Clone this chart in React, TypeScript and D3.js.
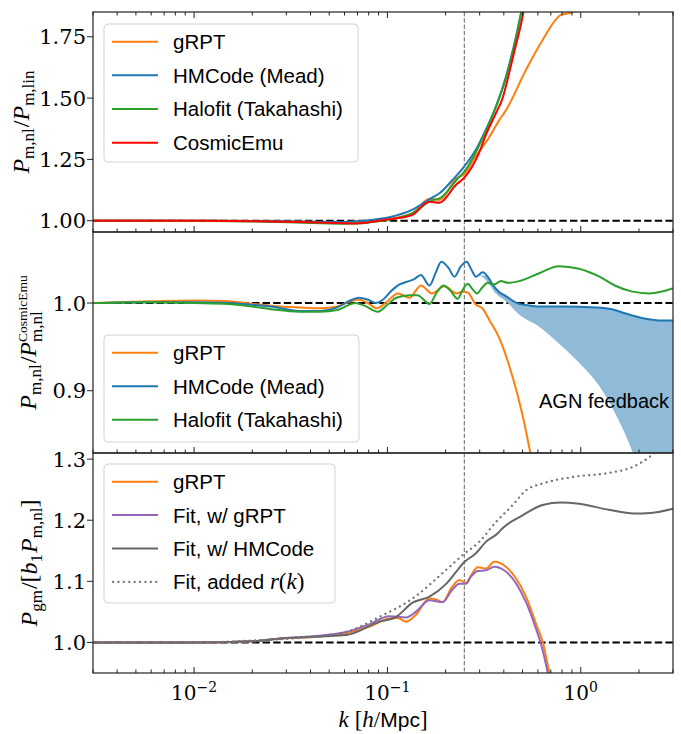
import React, { useRef, useEffect } from 'react';
import * as d3 from 'd3';

type Pt = [number, number];
type Band = [number, number, number];

const SERIF = "'DejaVu Serif', serif";
const MATH = "'Liberation Serif', 'Times New Roman', serif";
const SANS = "'Liberation Sans', Arial, sans-serif";

// x axis
const K_DOMAIN: [number, number] = [0.003, 3];
const K_MARKER = 0.25;
const X_TICKS = [0.01, 0.1, 1];
const X_TICK_EXP = ['\u22122', '\u22121', '0'];

// y axes
const TOP_DOMAIN: [number, number] = [0.954, 1.851];
const TOP_TICKS = [1.0, 1.25, 1.5, 1.75];
const MID_DOMAIN: [number, number] = [0.829, 1.081];
const MID_TICKS = [0.9, 1.0];
const BOT_DOMAIN: [number, number] = [0.95, 1.31];
const BOT_TICKS = [1.0, 1.1, 1.2, 1.3];

// top panel: P_nl / P_lin
const topGRPT: Pt[] = [
  [0.003, 1.0], [0.01, 1.0], [0.02, 0.999], [0.04, 0.996], [0.06, 0.994], [0.08, 1.0],
  [0.102, 1.008], [0.134, 1.03], [0.165, 1.09], [0.186, 1.084], [0.226, 1.17], [0.25, 1.19],
  [0.287, 1.265], [0.33, 1.33], [0.379, 1.41], [0.41, 1.45], [0.52, 1.614], [0.635, 1.737],
  [0.79, 1.839], [0.89, 1.848], [1.0, 1.87], [1.5, 1.95],
];
const topHMCode: Pt[] = [
  [0.003, 1.0], [0.01, 1.0], [0.02, 0.999], [0.04, 0.996], [0.06, 0.995], [0.08, 1.002],
  [0.102, 1.014], [0.134, 1.044], [0.171, 1.095], [0.186, 1.112], [0.217, 1.166], [0.25, 1.222],
  [0.287, 1.29], [0.31, 1.342], [0.364, 1.465], [0.41, 1.587], [0.45, 1.71], [0.49, 1.845],
  [0.52, 1.95],
];
const topHalofit: Pt[] = [
  [0.003, 1.0], [0.01, 0.999], [0.02, 0.997], [0.04, 0.991], [0.06, 0.988], [0.075, 0.99],
  [0.09, 0.998], [0.102, 1.004], [0.134, 1.03], [0.171, 1.084], [0.186, 1.091], [0.236, 1.18],
  [0.25, 1.2], [0.287, 1.28], [0.31, 1.335], [0.379, 1.5], [0.41, 1.58], [0.49, 1.84],
  [0.52, 1.95],
];
const topCosmicEmu: Pt[] = [
  [0.003, 1.0], [0.01, 1.0], [0.02, 0.998], [0.04, 0.994], [0.069, 0.989], [0.09, 1.0],
  [0.102, 1.006], [0.134, 1.023], [0.165, 1.077], [0.186, 1.073], [0.226, 1.146], [0.25, 1.176],
  [0.299, 1.28], [0.323, 1.35], [0.364, 1.438], [0.39, 1.49], [0.45, 1.68], [0.505, 1.85],
  [0.53, 1.95],
];

// middle panel: P_nl / P_CosmicEmu
const midGRPT: Pt[] = [
  [0.003, 1.0], [0.006, 1.002], [0.01, 1.003], [0.015, 1.002], [0.02, 0.999], [0.025, 0.997],
  [0.035, 0.995], [0.045, 0.994], [0.055, 0.996], [0.063, 1.001], [0.071, 1.004], [0.079, 1.0],
  [0.088, 0.994], [0.1, 1.002], [0.113, 1.011], [0.13, 1.006], [0.149, 1.02], [0.17, 1.011],
  [0.197, 1.019], [0.228, 1.011], [0.245, 1.013], [0.26, 1.012], [0.287, 0.998], [0.31, 0.994],
  [0.336, 0.981], [0.379, 0.96], [0.445, 0.915], [0.5, 0.872], [0.542, 0.835], [0.6, 0.78],
];
const midHMCode: Pt[] = [
  [0.003, 1.0], [0.006, 1.001], [0.01, 1.001], [0.015, 1.0], [0.02, 0.998], [0.025, 0.996],
  [0.035, 0.991], [0.045, 0.991], [0.055, 0.995], [0.063, 1.002], [0.071, 1.006], [0.079, 1.004],
  [0.087, 1.0], [0.095, 1.004], [0.105, 1.014], [0.115, 1.021], [0.125, 1.024], [0.137, 1.027],
  [0.149, 1.032], [0.165, 1.02], [0.178, 1.035], [0.19, 1.047], [0.207, 1.04], [0.222, 1.03],
  [0.24, 1.042], [0.257, 1.047], [0.272, 1.038], [0.287, 1.03], [0.311, 1.035], [0.33, 1.03],
  [0.35, 1.021], [0.38, 1.012], [0.41, 1.008], [0.45, 1.002], [0.48, 0.999], [0.55, 0.997],
  [0.61, 0.996], [0.8, 0.996], [1.2, 0.995], [1.45, 0.993], [1.65, 0.989], [2.17, 0.982],
  [2.6, 0.98], [3.0, 0.98],
];
const midHalofit: Pt[] = [
  [0.003, 1.0], [0.006, 1.001], [0.01, 1.0], [0.015, 0.999], [0.02, 0.996], [0.025, 0.993],
  [0.035, 0.99], [0.045, 0.99], [0.055, 0.992], [0.062, 0.997], [0.068, 1.0], [0.076, 0.997],
  [0.089, 0.99], [0.1, 0.998], [0.111, 1.006], [0.13, 1.009], [0.143, 1.009], [0.165, 0.999],
  [0.18, 1.012], [0.195, 1.02], [0.21, 1.015], [0.231, 1.005], [0.245, 1.015], [0.26, 1.022],
  [0.275, 1.016], [0.29, 1.011], [0.31, 1.018], [0.33, 1.023], [0.354, 1.021], [0.387, 1.025],
  [0.419, 1.023], [0.48, 1.025], [0.61, 1.034], [0.77, 1.042], [0.98, 1.039], [1.25, 1.03],
  [1.5, 1.02], [1.85, 1.013], [2.26, 1.011], [2.6, 1.013], [3.0, 1.017],
];
// AGN feedback band: [k, lower, upper]
const agnBand: Band[] = [
  [0.3, 1.032, 1.032], [0.33, 1.024, 1.03], [0.36, 1.012, 1.019], [0.41, 1.002, 1.008],
  [0.48, 0.987, 0.999], [0.61, 0.973, 0.996], [0.77, 0.954, 0.996], [0.98, 0.932, 0.996],
  [1.25, 0.905, 0.995], [1.5, 0.875, 0.992], [1.78, 0.84, 0.987], [2.2, 0.78, 0.982],
  [3.0, 0.7, 0.98],
];

// bottom panel: P_gm / (b1 P_nl)
const botGRPT: Pt[] = [
  [0.003, 1.0], [0.01, 1.0], [0.02, 1.002], [0.028, 1.0065], [0.041, 1.009], [0.061, 1.015],
  [0.081, 1.026], [0.102, 1.039], [0.113, 1.04], [0.125, 1.034], [0.14, 1.045], [0.165, 1.072],
  [0.18, 1.07], [0.193, 1.066], [0.215, 1.09], [0.236, 1.102], [0.255, 1.0975], [0.271, 1.11],
  [0.293, 1.123], [0.324, 1.121], [0.357, 1.132], [0.41, 1.124], [0.462, 1.105], [0.521, 1.075],
  [0.586, 1.031], [0.635, 1.001], [0.687, 0.952], [0.75, 0.9],
];
const botFitGRPT: Pt[] = [
  [0.003, 1.0], [0.01, 1.0], [0.02, 1.002], [0.028, 1.0065], [0.041, 1.01], [0.061, 1.017],
  [0.081, 1.03], [0.102, 1.043], [0.125, 1.041], [0.14, 1.05], [0.165, 1.069], [0.193, 1.066],
  [0.215, 1.085], [0.236, 1.096], [0.255, 1.096], [0.271, 1.108], [0.293, 1.117], [0.324, 1.118],
  [0.357, 1.124], [0.41, 1.116], [0.462, 1.097], [0.521, 1.066], [0.586, 1.023], [0.622, 0.998],
  [0.673, 0.952], [0.72, 0.9],
];
const botFitHMCode: Pt[] = [
  [0.003, 1.0], [0.01, 1.0], [0.02, 1.002], [0.028, 1.0065], [0.061, 1.012], [0.091, 1.034],
  [0.111, 1.042], [0.135, 1.065], [0.165, 1.075], [0.2, 1.095], [0.226, 1.115], [0.247, 1.13],
  [0.287, 1.146], [0.324, 1.165], [0.37, 1.178], [0.394, 1.187], [0.5, 1.208], [0.635, 1.225],
  [0.79, 1.229], [0.98, 1.227], [1.4, 1.217], [1.88, 1.211], [2.3, 1.212], [3.0, 1.219],
];
const botFitAddedR: Pt[] = [
  [0.003, 1.0], [0.01, 1.0], [0.02, 1.003], [0.04, 1.009], [0.061, 1.017], [0.091, 1.042],
  [0.135, 1.072], [0.2, 1.118], [0.245, 1.143], [0.299, 1.165], [0.364, 1.197], [0.445, 1.225],
  [0.521, 1.249], [0.635, 1.26], [0.92, 1.271], [1.37, 1.277], [1.88, 1.288], [2.3, 1.305],
  [2.6, 1.32], [3.0, 1.34],
];

const C_ORANGE = '#ff7f0e';
const C_BLUE = '#1f77b4';
const C_GREEN = '#2ca02c';
const C_RED = '#ff0000';
const C_PURPLE = '#9467bd';
const C_GRAY = '#666666';
const DOTS = '0.1,5.3';

type Piece = { t?: string; f?: 'it' | 'rm' | 'sf'; s?: number; dy?: number; stack?: boolean; gap?: number };

// lay out a small math-like label piece by piece, measuring as we go
function mathText(g: d3.Selection<SVGGElement, unknown, null, undefined>, pieces: Piece[], size: number, anchor: 'middle' | 'start') {
  let cursor = 0, prevStart = 0, prevW = 0;
  const nodes: any[] = [];
  pieces.forEach(p => {
    if (p.gap) { cursor += p.gap; return; }
    const sz = p.s ?? size;
    const el = g.append('text')
      .attr('font-family', p.f === 'sf' ? SANS : MATH)
      .attr('font-style', p.f === 'it' ? 'italic' : 'normal')
      .attr('font-size', sz)
      .attr('y', p.dy ?? 0)
      .attr('fill', '#000')
      .text(p.t || '');
    const w = (el.node() as SVGTextElement).getComputedTextLength();
    const x0 = p.stack ? prevStart : cursor;
    el.attr('x', x0);
    cursor = p.stack ? Math.max(prevStart + prevW, x0 + w) : x0 + w;
    prevStart = x0; prevW = w;
    nodes.push(el);
  });
  const shift = anchor === 'middle' ? -cursor / 2 : 0;
  nodes.forEach(n => n.attr('x', +n.attr('x') + shift));
}

export default function App() {
  const ref = useRef<SVGSVGElement>(null);

  useEffect(() => {
    if (!ref.current) return;
    const svg = d3.select(ref.current);
    svg.selectAll('*').remove();

    const L = 93, R = 673;
    const edges = [12, 232, 453, 673];
    const x = d3.scaleLog().domain(K_DOMAIN).range([L, R]);

    const logTicks: { v: number; major: boolean }[] = [];
    for (let e = -3; e <= 0; e++) {
      for (let m = 1; m <= 9; m++) {
        const v = +(m * Math.pow(10, e)).toPrecision(6);
        if (v >= K_DOMAIN[0] && v <= K_DOMAIN[1]) logTicks.push({ v, major: m === 1 });
      }
    }

    const S = (p: Pt[], color: string, dash?: string) => ({ p, color, dash });
    const panels = [
      {
        domain: TOP_DOMAIN, ticks: TOP_TICKS, fmt: d3.format('.2f'),
        series: [S(topGRPT, C_ORANGE), S(topHMCode, C_BLUE), S(topHalofit, C_GREEN), S(topCosmicEmu, C_RED)],
        band: null as Band[] | null,
        legend: { box: [104, 24, 358, 162], rows: [41.7, 75.3, 108.9, 142.8] },
        names: ['gRPT', 'HMCode (Mead)', 'Halofit (Takahashi)', 'CosmicEmu'],
        labelX: 29,
        label: [
          { t: 'P', f: 'it' }, { t: 'm,nl', s: 17, dy: 5 }, { gap: 1 }, { t: '/' },
          { t: 'P', f: 'it' }, { t: 'm,lin', s: 17, dy: 5 },
        ] as Piece[],
        topTicks: true,
      },
      {
        domain: MID_DOMAIN, ticks: MID_TICKS, fmt: d3.format('.1f'),
        series: [S(midGRPT, C_ORANGE), S(midHMCode, C_BLUE), S(midHalofit, C_GREEN)],
        band: agnBand,
        legend: { box: [104, 335, 359, 442], rows: [352.7, 386.3, 419.8] },
        names: ['gRPT', 'HMCode (Mead)', 'Halofit (Takahashi)'],
        labelX: 36,
        label: [
          { t: 'P', f: 'it' }, { t: 'm,nl', s: 17, dy: 5 }, { gap: 1 }, { t: '/' },
          { t: 'P', f: 'it' }, { t: 'CosmicEmu', s: 13.5, dy: -9 }, { t: 'm,nl', s: 17, dy: 6, stack: true },
        ] as Piece[],
        topTicks: false,
      },
      {
        domain: BOT_DOMAIN, ticks: BOT_TICKS, fmt: d3.format('.1f'),
        series: [S(botGRPT, C_ORANGE), S(botFitGRPT, C_PURPLE), S(botFitHMCode, C_GRAY), S(botFitAddedR, '#777777', DOTS)],
        band: null as Band[] | null,
        legend: { box: [104, 464, 335, 603], rows: [481.7, 515.1, 548.5, 581.9] },
        names: ['gRPT', 'Fit, w/ gRPT', 'Fit, w/ HMCode', 'Fit, added '],
        labelX: 37,
        label: [
          { t: 'P', f: 'it' }, { t: 'gm', s: 17, dy: 5 }, { gap: 1 }, { t: '/[' },
          { t: 'b', f: 'it' }, { t: '1', s: 17, dy: 5 }, { gap: 1 },
          { t: 'P', f: 'it' }, { t: 'm,nl', s: 17, dy: 5 }, { t: ']' },
        ] as Piece[],
        topTicks: false,
      },
    ];

    panels.forEach((pn, i) => {
      const top = edges[i], bottom = edges[i + 1];
      const y = d3.scaleLinear().domain(pn.domain).range([bottom, top]);
      const clipId = `clip${i}`;
      svg.append('clipPath').attr('id', clipId)
        .append('rect').attr('x', L).attr('y', top).attr('width', R - L).attr('height', bottom - top);
      const g = svg.append('g').attr('clip-path', `url(#${clipId})`);

      // reference lines
      g.append('line')
        .attr('x1', x(K_MARKER)).attr('x2', x(K_MARKER)).attr('y1', top).attr('y2', bottom)
        .attr('stroke', '#808080').attr('stroke-width', 1.2).attr('stroke-dasharray', '4.4,1.9');
      g.append('line')
        .attr('x1', L).attr('x2', R).attr('y1', y(1)).attr('y2', y(1))
        .attr('stroke', '#000').attr('stroke-width', 2).attr('stroke-dasharray', '7.4,3.2');

      if (pn.band) {
        const area = d3.area<Band>()
          .x(d => x(d[0])).y0(d => y(d[1])).y1(d => y(d[2]))
          .curve(d3.curveMonotoneX);
        g.append('path').attr('d', area(pn.band)).attr('fill', '#8fbbd9').attr('stroke', 'none');
      }

      const line = d3.line<Pt>().x(d => x(d[0])).y(d => y(d[1])).curve(d3.curveMonotoneX);
      pn.series.forEach(s => {
        g.append('path').attr('d', line(s.p))
          .attr('fill', 'none').attr('stroke', s.color).attr('stroke-width', s.dash ? 2.3 : 2)
          .attr('stroke-linejoin', 'round').attr('stroke-linecap', s.dash ? 'round' : 'butt')
          .attr('stroke-dasharray', s.dash || null);
      });

      if (i === 1) {
        svg.append('text').attr('x', 539).attr('y', 408)
          .attr('font-family', SANS).attr('font-size', 20).attr('fill', '#000')
          .text('AGN feedback');
      }

      // frame
      svg.append('rect').attr('x', L).attr('y', top).attr('width', R - L).attr('height', bottom - top)
        .attr('fill', 'none').attr('stroke', '#222').attr('stroke-width', 1.2);

      // x ticks (inward)
      const ax = svg.append('g').attr('stroke', '#222').attr('stroke-width', 1);
      logTicks.forEach(t => {
        const len = t.major ? 6 : 3.5;
        const xv = x(t.v);
        ax.append('line').attr('x1', xv).attr('x2', xv).attr('y1', bottom).attr('y2', bottom - len);
        if (pn.topTicks) ax.append('line').attr('x1', xv).attr('x2', xv).attr('y1', top).attr('y2', top + len);
      });

      // y ticks
      pn.ticks.forEach(v => {
        const yv = y(v);
        svg.append('line').attr('x1', L - 6).attr('x2', L).attr('y1', yv).attr('y2', yv)
          .attr('stroke', '#222').attr('stroke-width', 1);
        svg.append('text').attr('x', L - 7).attr('y', yv + 7.5)
          .attr('text-anchor', 'end').attr('font-family', SERIF).attr('font-size', 21).attr('fill', '#000')
          .text(pn.fmt(v));
      });

      // legend
      const [bx0, by0, bx1, by1] = pn.legend.box;
      const lg = svg.append('g');
      lg.append('rect').attr('x', bx0).attr('y', by0).attr('width', bx1 - bx0).attr('height', by1 - by0)
        .attr('rx', 4).attr('fill', '#fff').attr('fill-opacity', 0.8)
        .attr('stroke', '#d3d3d3').attr('stroke-width', 1);
      pn.series.forEach((s, j) => {
        const ry = pn.legend.rows[j];
        lg.append('line').attr('x1', s.dash ? 113 : 112).attr('x2', 158).attr('y1', ry).attr('y2', ry)
          .attr('stroke', s.color).attr('stroke-width', s.dash ? 2.3 : 2)
          .attr('stroke-linecap', s.dash ? 'round' : 'butt')
          .attr('stroke-dasharray', s.dash || null);
        const tx = lg.append('text').attr('x', 173).attr('y', ry + 7.5)
          .attr('font-family', SANS).attr('font-size', 20.5).attr('fill', '#000')
          .style('white-space', 'pre');
        tx.append('tspan').text(pn.names[j]);
        if (i === 2 && j === 3) {
          tx.append('tspan').attr('font-family', MATH).attr('font-style', 'italic').attr('font-size', 23).text('r');
          tx.append('tspan').attr('font-family', MATH).attr('font-size', 23).text('(');
          tx.append('tspan').attr('font-family', MATH).attr('font-style', 'italic').attr('font-size', 23).text('k');
          tx.append('tspan').attr('font-family', MATH).attr('font-size', 23).text(')');
        }
      });

      // y label
      const yl = svg.append('g').attr('transform', `translate(${pn.labelX},${(top + bottom) / 2}) rotate(-90)`);
      mathText(yl, pn.label, 24, 'middle');

      // x tick labels on the bottom panel
      if (i === panels.length - 1) {
        X_TICKS.forEach((v, j) => {
          const t = svg.append('text').attr('x', x(v)).attr('y', 700).attr('text-anchor', 'middle')
            .attr('font-family', SERIF).attr('font-size', 20).attr('fill', '#000');
          t.append('tspan').text('10');
          t.append('tspan').attr('font-size', 14).attr('dy', -8.5).text(X_TICK_EXP[j]);
        });
      }
    });

    // x axis label
    const xl = svg.append('g').attr('transform', `translate(${(L + R) / 2},727)`);
    mathText(xl, [
      { t: 'k', f: 'it' }, { gap: 6 }, { t: '[' }, { t: 'h', f: 'it' }, { t: '/' },
      { t: 'Mpc', f: 'sf', s: 21 }, { t: ']' },
    ], 23, 'middle');
  }, []);

  return (
    <svg ref={ref} width={681} height={734}
      style={{ position: 'absolute', left: 0, top: 0, background: '#fff', display: 'block' }} />
  );
}
